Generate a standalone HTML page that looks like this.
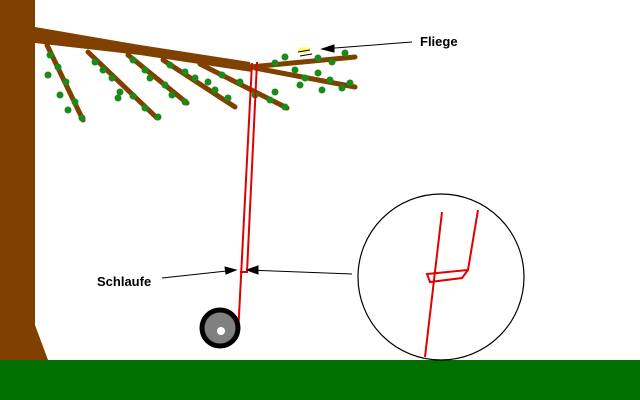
<!DOCTYPE html>
<html><head><style>body{margin:0;background:#fff}svg{display:block}</style></head><body>
<svg width="640" height="400" xmlns="http://www.w3.org/2000/svg">
<rect width="640" height="400" fill="#fff"/>
<rect x="0" y="360" width="640" height="40" fill="#007000"/>
<polygon points="0,0 35,0 35,325 48,360 0,360" fill="#7f4000"/>
<g stroke="#7f4000" stroke-linecap="round" fill="none">
<polygon points="35,27 140,45 250,62 252,72 140,55 35,43" fill="#7f4000" stroke="none"/>
<path d="M250,67 L355,57" stroke-width="5"/>
<path d="M255,68 L355,87" stroke-width="5"/>
<path d="M47,45 L83,120" stroke-width="5"/>
<path d="M88,52 L157,118" stroke-width="5"/>
<path d="M128,55 L187,103" stroke-width="5"/>
<path d="M163,60 L235,107" stroke-width="5"/>
<path d="M200,64 L287,108" stroke-width="5"/>
</g>
<g fill="#1a8a1a">
<circle cx="50" cy="55" r="3.5"/><circle cx="58" cy="67" r="3.5"/><circle cx="48" cy="75" r="3.5"/><circle cx="66" cy="82" r="3.5"/><circle cx="60" cy="95" r="3.5"/><circle cx="75" cy="102" r="3.5"/><circle cx="68" cy="110" r="3.5"/><circle cx="82" cy="118" r="3.5"/>
<circle cx="95" cy="62" r="3.5"/><circle cx="103" cy="70" r="3.5"/><circle cx="112" cy="78" r="3.5"/><circle cx="120" cy="92" r="3.5"/><circle cx="133" cy="96" r="3.5"/><circle cx="145" cy="108" r="3.5"/><circle cx="158" cy="117" r="3.5"/><circle cx="118" cy="98" r="3.5"/>
<circle cx="133" cy="60" r="3.5"/><circle cx="145" cy="70" r="3.5"/><circle cx="150" cy="78" r="3.5"/><circle cx="165" cy="85" r="3.5"/><circle cx="172" cy="95" r="3.5"/><circle cx="185" cy="102" r="3.5"/>
<circle cx="170" cy="65" r="3.5"/><circle cx="185" cy="72" r="3.5"/><circle cx="195" cy="78" r="3.5"/><circle cx="208" cy="82" r="3.5"/><circle cx="215" cy="90" r="3.5"/><circle cx="228" cy="98" r="3.5"/><circle cx="222" cy="75" r="3.5"/>
<circle cx="240" cy="82" r="3.5"/><circle cx="255" cy="95" r="3.5"/><circle cx="270" cy="100" r="3.5"/><circle cx="285" cy="107" r="3.5"/><circle cx="275" cy="92" r="3.5"/>
<circle cx="275" cy="63" r="3.5"/><circle cx="285" cy="57" r="3.5"/><circle cx="295" cy="70" r="3.5"/><circle cx="305" cy="78" r="3.5"/><circle cx="318" cy="73" r="3.5"/><circle cx="330" cy="80" r="3.5"/><circle cx="342" cy="88" r="3.5"/><circle cx="350" cy="83" r="3.5"/><circle cx="332" cy="62" r="3.5"/><circle cx="345" cy="53" r="3.5"/><circle cx="318" cy="58" r="3.5"/><circle cx="300" cy="85" r="3.5"/><circle cx="322" cy="90" r="3.5"/>
</g>
<ellipse cx="304" cy="50" rx="6" ry="3" fill="#ffff60"/>
<path d="M298,52 L310,50 M300,56 L312,54" stroke="#000" stroke-width="1"/>
<g stroke="#e00000" stroke-width="2" fill="none">
<path d="M252,63 L238,335"/><path d="M257,62 L247,272 L240,272"/>
<path d="M442,212 L425,357"/><path d="M478,210 L468,270 L427,274 L430,282 L462,278 L468,270"/>
</g>
<circle cx="220" cy="328" r="18" fill="#808080" stroke="#000" stroke-width="5"/>
<circle cx="221" cy="331" r="4" fill="#fff"/>
<circle cx="441" cy="277" r="83" fill="none" stroke="#000" stroke-width="1.2"/>
<g stroke="#000" stroke-width="1" fill="#000">
<path d="M162,278 L236,270" fill="none"/><polygon points="236,270 225,267 226,274"/>
<path d="M352,274 L247,270" fill="none"/><polygon points="247,270 258,266 258,274"/>
<path d="M412,42 L322,49" fill="none"/><polygon points="322,49 334,45 334,52"/>
</g>
<text x="420" y="46" font-family="Liberation Sans, sans-serif" font-weight="bold" font-size="13">Fliege</text>
<text x="97" y="286" font-family="Liberation Sans, sans-serif" font-weight="bold" font-size="13">Schlaufe</text>
</svg>
</body></html>
